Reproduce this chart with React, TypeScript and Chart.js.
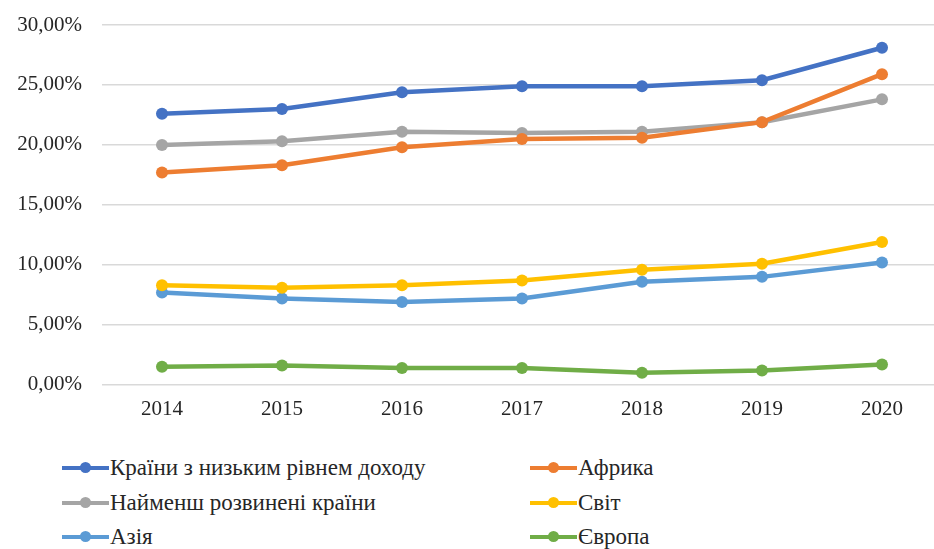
import React, { useEffect, useRef } from "react";
import { Chart, registerables } from "chart.js";

Chart.register(...registerables);

const years = ["2014", "2015", "2016", "2017", "2018", "2019", "2020"];
const lowIncome = [22.6, 23.0, 24.4, 24.9, 24.9, 25.4, 28.1];
const africa = [17.7, 18.3, 19.8, 20.5, 20.6, 21.9, 25.9];
const leastDeveloped = [20.0, 20.3, 21.1, 21.0, 21.1, 21.9, 23.8];
const world = [8.3, 8.1, 8.3, 8.7, 9.6, 10.1, 11.9];
const asia = [7.7, 7.2, 6.9, 7.2, 8.6, 9.0, 10.2];
const europe = [1.5, 1.6, 1.4, 1.4, 1.0, 1.2, 1.7];
const yTicks = [0, 5, 10, 15, 20, 25, 30];

const seriesNames = [
  "Країни з низьким рівнем доходу",
  "Африка",
  "Найменш розвинені країни",
  "Світ",
  "Азія",
  "Європа",
];
const seriesData = [lowIncome, africa, leastDeveloped, world, asia, europe];
const seriesColors = ["#4472C4", "#ED7D31", "#A5A5A5", "#FFC000", "#5B9BD5", "#70AD47"];

const FONT =
  "'Liberation Serif', 'DejaVu Serif', 'Noto Serif', 'FreeSerif', 'Nimbus Roman', 'Times New Roman', Times, serif";

export default function App() {
  const ref = useRef<HTMLCanvasElement | null>(null);

  useEffect(() => {
    if (!ref.current) return;
    const chart = new Chart(ref.current, {
      type: "line",
      data: {
        labels: years,
        datasets: seriesNames.map((name, i) => ({
          label: name,
          data: seriesData[i],
          borderColor: seriesColors[i],
          backgroundColor: seriesColors[i],
          borderWidth: 4.5,
          pointRadius: 6,
          pointHoverRadius: 6,
          pointBorderWidth: 0,
          tension: 0,
        })),
      },
      options: {
        responsive: false,
        animation: false,
        layout: { padding: { left: 10, top: 25, right: 0, bottom: 0 } },
        plugins: { legend: { display: false }, tooltip: { enabled: false } },
        scales: {
          x: {
            offset: true,
            grid: { display: false, drawTicks: false },
            border: { display: false },
            ticks: { padding: 12, color: "#262626", font: { family: FONT, size: 21 } },
          },
          y: {
            min: 0,
            max: 30,
            afterBuildTicks: (axis: any) => {
              axis.ticks = yTicks.map((v) => ({ value: v }));
            },
            afterFit: (axis: any) => {
              axis.width = 92;
              axis.paddingTop = 0;
              axis.paddingBottom = 0;
            },
            grid: { color: "#D9D9D9", lineWidth: 1.5, drawTicks: false },
            border: { display: false },
            ticks: {
              padding: 20,
              color: "#262626",
              font: { family: FONT, size: 21 },
              callback: (v: any) => Number(v).toFixed(2).replace(".", ",") + "%",
            },
          },
        },
      },
    });
    return () => chart.destroy();
  }, []);

  const legendRows = [0, 2, 4];
  return (
    <div style={{ position: "fixed", left: 0, top: 0, width: 934, height: 549, overflow: "hidden", background: "#fff" }}>
      <canvas ref={ref} width={948} height={434} style={{ position: "absolute", left: 0, top: 0, width: 948, height: 434 }} />
      {legendRows.map((start, r) =>
        [start, start + 1].map((idx, c) => (
          <div
            key={idx}
            style={{
              position: "absolute",
              left: c === 0 ? 62 : 530,
              top: 468 + r * 34.5 - 14,
              height: 28,
              display: "flex",
              alignItems: "center",
              fontFamily: FONT,
              fontSize: 23,
              color: "#262626",
              whiteSpace: "nowrap",
            }}
          >
            <span style={{ position: "relative", width: 47, height: 12, marginRight: 1, display: "inline-block" }}>
              <span style={{ position: "absolute", left: 0, right: 0, top: 4, height: 4, background: seriesColors[idx] }} />
              <span
                style={{
                  position: "absolute",
                  left: 18,
                  top: 0,
                  width: 11,
                  height: 11,
                  borderRadius: "50%",
                  background: seriesColors[idx],
                }}
              />
            </span>
            <span>{seriesNames[idx]}</span>
          </div>
        ))
      )}
    </div>
  );
}
